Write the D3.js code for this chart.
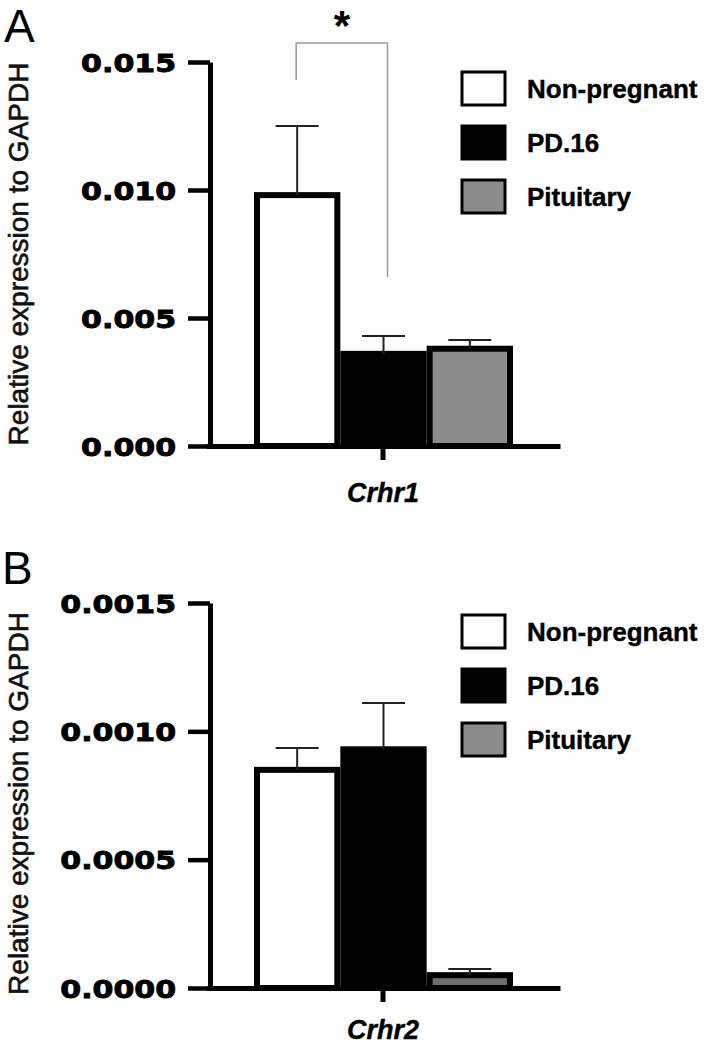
<!DOCTYPE html>
<html>
<head>
<meta charset="utf-8">
<script src="https://cdn.jsdelivr.net/npm/d3@7"></script>
<style>
  html, body { margin: 0; padding: 0; background: #fff; }
  svg { display: block; }
</style>
</head>
<body>
<svg id="chart" width="709" height="1046"></svg>
<script>
// ---------- DATA ----------
const groups = ["Non-pregnant", "PD.16", "Pituitary"];

const crhr1Category = ["Crhr1"];
const crhr1Means = [0.0098, 0.0036, 0.0038];
const crhr1Sem   = [0.0027, 0.0007, 0.00034];
const crhr1Ticks = [0, 0.005, 0.010, 0.015];
const crhr1TickLabels = ["0.000", "0.005", "0.010", "0.015"];

const crhr2Category = ["Crhr2"];
const crhr2Means = [0.00085, 0.00093, 0.00005];
const crhr2Sem   = [0.000085, 0.00018, 0.000024];
const crhr2Ticks = [0, 0.0005, 0.0010, 0.0015];
const crhr2TickLabels = ["0.0000", "0.0005", "0.0010", "0.0015"];

const yTitle = "Relative expression to GAPDH";
const significance = "*";

// ---------- DRAW ----------
const svg = d3.select("#chart");
const FONT = "'Liberation Sans', Arial, Helvetica, sans-serif";
const TICKFONT = "'DejaVu Sans', Arial, sans-serif";

function drawPanel(opt) {
  const g = svg.append("g");
  const y = d3.scaleLinear().domain(opt.domain).range([opt.base, opt.top]);
  const xg = d3.scaleBand().domain(groups).range([254, 513]).paddingInner(0);
  const xc = d3.scaleBand().domain(opt.category).range([206, 560]);
  const bw = xg.bandwidth();

  // panel letter
  g.append("text").attr("x", opt.letterX).attr("y", opt.letterY)
    .attr("font-family", FONT).attr("font-size", 46).attr("fill", "#000")
    .text(opt.letter);

  // y title
  const midY = (opt.base + opt.top) / 2 + opt.titleShift;
  g.append("text")
    .attr("transform", `translate(28,${midY}) rotate(-90)`)
    .attr("text-anchor", "middle")
    .attr("font-family", FONT).attr("font-size", 28).attr("fill", "#111")
    .attr("stroke", "#111").attr("stroke-width", 0.6)
    .text(yTitle);

  // bars
  const fills = opt.fills;
  g.selectAll("rect.bar").data(opt.means).enter().append("rect")
    .attr("class", "bar")
    .attr("x", (d, i) => xg(groups[i]) + 3)
    .attr("width", bw - 6)
    .attr("y", d => y(d))
    .attr("height", d => opt.base - y(d))
    .attr("fill", (d, i) => fills[i])
    .attr("stroke", "#000").attr("stroke-width", 6);

  // error bars
  const eb = g.selectAll("g.err").data(opt.means).enter().append("g").attr("class", "err");
  eb.append("line")
    .attr("x1", (d, i) => xg(groups[i]) + bw / 2)
    .attr("x2", (d, i) => xg(groups[i]) + bw / 2)
    .attr("y1", d => y(d))
    .attr("y2", (d, i) => y(d + opt.sem[i]))
    .attr("stroke", "#222").attr("stroke-width", 2);
  eb.append("line")
    .attr("x1", (d, i) => xg(groups[i]) + bw / 2 - 21.5)
    .attr("x2", (d, i) => xg(groups[i]) + bw / 2 + 21.5)
    .attr("y1", (d, i) => y(d + opt.sem[i]))
    .attr("y2", (d, i) => y(d + opt.sem[i]))
    .attr("stroke", "#222").attr("stroke-width", 2);

  // y axis
  const yAxis = d3.axisLeft(y).tickValues(opt.ticks)
    .tickFormat((d, i) => opt.tickLabels[i]).tickSize(22).tickSizeOuter(0).tickPadding(0);
  const ya = g.append("g").attr("transform", "translate(210,0)").call(yAxis);
  ya.select(".domain").attr("stroke", "#000").attr("stroke-width", 5);
  ya.selectAll(".tick line").attr("stroke", "#000").attr("stroke-width", 4.5);
  ya.selectAll(".tick text")
    .attr("font-family", TICKFONT).attr("font-weight", "bold").attr("font-size", 25)
    .attr("fill", "#000").attr("stroke", "#000").attr("stroke-width", 0.9)
    .attr("x", -34 / 1.2).attr("dy", "0.36em")
    .attr("transform", "scale(1.2,1)");

  // x axis
  const xAxis = d3.axisBottom(xc).tickSize(14).tickSizeOuter(0).tickPadding(opt.xPad);
  const xa = g.append("g").attr("transform", `translate(0,${opt.base})`).call(xAxis);
  xa.select(".domain").attr("stroke", "#000").attr("stroke-width", 5);
  xa.selectAll(".tick line").attr("stroke", "#000").attr("stroke-width", 5);
  xa.selectAll(".tick text")
    .attr("font-family", FONT).attr("font-weight", "bold").attr("font-style", "italic")
    .attr("font-size", 27).attr("fill", "#000").attr("stroke", "#000").attr("stroke-width", 0.4);

  // legend
  const lg = g.append("g");
  const items = lg.selectAll("g").data(groups).enter().append("g")
    .attr("transform", (d, i) => `translate(462,${opt.legendY + i * 54})`);
  items.append("rect").attr("x", 0).attr("y", 0).attr("width", 43).attr("height", 33)
    .attr("fill", (d, i) => opt.legendFills[i]).attr("stroke", "#000").attr("stroke-width", 3);
  items.append("text").attr("x", 65).attr("y", 26)
    .attr("font-family", FONT).attr("font-weight", "bold").attr("font-size", 26)
    .attr("fill", "#000").attr("stroke", "#000").attr("stroke-width", 0.4).text(d => d);

  return { g, y, xg };
}

const pA = drawPanel({
  letter: "A", letterX: 4, letterY: 42,
  domain: [0, 0.015], base: 446, top: 62, titleShift: 0,
  category: crhr1Category, means: crhr1Means, sem: crhr1Sem,
  ticks: crhr1Ticks, tickLabels: crhr1TickLabels,
  fills: ["#fff", "#000", "#8c8c8c"], legendFills: ["#fff", "#000", "#8c8c8c"],
  legendY: 72, xPad: 23
});

// significance bracket (panel A)
{
  const { g, y, xg } = pA;
  const bw = xg.bandwidth();
  const xL = xg(groups[0]) + bw / 2 - 1;
  const xR = xg(groups[1]) + bw / 2 + 4;
  const topY = 43;
  g.append("path")
    .attr("d", `M${xL},${80} V${topY} H${xR} V${277}`)
    .attr("fill", "none").attr("stroke", "#9a9a9a").attr("stroke-width", 1.5);
  g.append("text").attr("x", (xL + xR) / 2).attr("y", 40)
    .attr("text-anchor", "middle")
    .attr("font-family", FONT).attr("font-weight", "bold").attr("font-size", 42)
    .attr("fill", "#000").text(significance);
}

drawPanel({
  letter: "B", letterX: 2, letterY: 584,
  domain: [0, 0.0015], base: 988, top: 603, titleShift: 8,
  category: crhr2Category, means: crhr2Means, sem: crhr2Sem,
  ticks: crhr2Ticks, tickLabels: crhr2TickLabels,
  fills: ["#fff", "#000", "#6e6e6e"], legendFills: ["#fff", "#000", "#8c8c8c"],
  legendY: 615, xPad: 18
});
</script>
</body>
</html>
